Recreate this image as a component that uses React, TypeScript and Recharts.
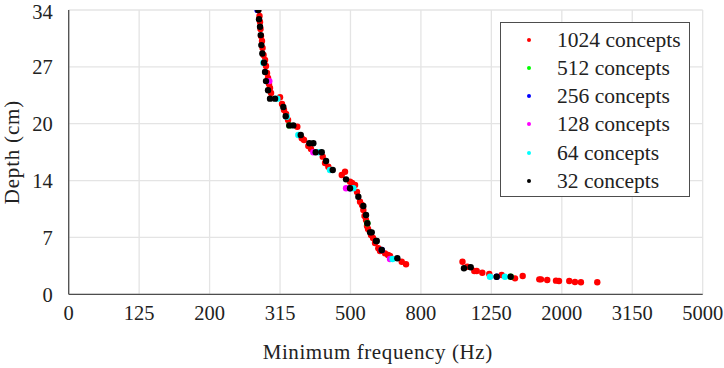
import { ScatterChart, Scatter, XAxis, YAxis, CartesianGrid, Legend, Label } from 'recharts';

// x axis: 2/3-octave bands, first band edge shown as "0"
const X_LABELS = ['0', '125', '200', '315', '500', '800', '1250', '2000', '3150', '5000'];
const X_MIN = 78.87;
const X_TICKS = X_LABELS.map((_, i) => X_MIN * Math.pow(10, i / 5));
const Y_TICKS = [0, 6.8, 13.6, 20.4, 27.2, 34];

// [minimum frequency (Hz), depth (cm)]
const c1024: [number, number][] = [
  [272.0, 34.0], [274.6, 33.28], [275.5, 32.56], [276.4, 31.73], [277.3, 30.89], [279.1, 30.29],
  [280.1, 29.45], [281.9, 28.62], [284.7, 28.02], [286.5, 27.3], [288.4, 26.47], [290.3, 25.87],
  [292.2, 25.15], [294.1, 24.67], [296.1, 24.07], [314.0, 23.56], [318.1, 22.76], [322.3, 22.04],
  [326.6, 21.56], [330.9, 20.84], [351.6, 20.04], [361.9, 18.66], [367.3, 18.45], [377.8, 17.74],
  [384.5, 17.38], [415.1, 16.46], [421.4, 15.7], [430.6, 15.26], [480.2, 14.66], [470.0, 14.27],
  [496.2, 13.47], [502.7, 13.31], [512.7, 13.07], [519.4, 12.23], [529.7, 11.07], [536.7, 10.68],
  [541.3, 10.08], [545.5, 9.36], [550.9, 8.89], [554.5, 8.17], [558.2, 7.81], [569.2, 7.09],
  [576.7, 6.73], [584.3, 6.13], [597.0, 5.5], [603.7, 5.18], [623.8, 4.9], [636.1, 4.7],
  [644.5, 4.58], [695.7, 3.9], [715.5, 3.59],
  [1035, 3.9], [1068, 3.3], [1118, 2.79], [1136, 2.79], [1178, 2.58], [1233, 2.43], [1337, 2.31],
  [1459, 1.91], [1534, 2.19], [1710, 1.79], [1729, 1.79], [1801, 1.71], [1907, 1.63], [1945, 1.59],
  [2080, 1.59], [2159, 1.47], [2245, 1.44], [2498, 1.44],
];
const c512: [number, number][] = [[333.7, 20.2], [555.6, 8.49], [1418, 2.1]];
const c256: [number, number][] = [[271.0, 34.0], [496.2, 12.68], [610.5, 5.3], [1294, 2.1]];
const c128: [number, number][] = [[292.8, 25.5], [390.4, 16.98], [483.4, 12.68], [644.5, 4.22]];
const c64: [number, number][] = [
  [281.5, 27.7], [308.5, 23.4], [328.1, 21.24], [353.9, 19.05], [405.2, 16.98], [435.4, 14.87],
  [507.0, 12.68], [655.1, 4.22], [1239, 2.1], [1366, 2.1],
];
const c32: [number, number][] = [
  [272.5, 34.0], [273.7, 32.9], [275.5, 32.0], [276.8, 31.0], [277.9, 29.8], [279.7, 28.8],
  [282.8, 27.7], [284.7, 26.6], [286.5, 25.5], [290.3, 24.4], [294.1, 23.4], [303.9, 23.4],
  [320.8, 22.4], [325.9, 21.3], [333.7, 20.2], [342.5, 20.2], [359.5, 19.05], [380.3, 18.06],
  [390.4, 18.06], [396.5, 16.98], [412.4, 16.98], [424.2, 15.94], [443.1, 14.87], [483.4, 13.75],
  [496.2, 12.68], [523.9, 11.67], [541.3, 10.56], [550.9, 9.48], [555.6, 8.49], [565.5, 7.41],
  [571.8, 7.41], [588.1, 6.37], [591.0, 6.37], [610.5, 5.3], [676.0, 4.31],
  [1045, 3.11], [1092, 3.23], [1294, 2.1], [1418, 2.1],
];

const SERIES = [
  { name: '1024 concepts', color: '#ff0000', data: c1024 },
  { name: '512 concepts', color: '#00ff00', data: c512 },
  { name: '256 concepts', color: '#0000ff', data: c256 },
  { name: '128 concepts', color: '#ff00ff', data: c128 },
  { name: '64 concepts', color: '#00ffff', data: c64 },
  { name: '32 concepts', color: '#000000', data: c32 },
];
const ORDER = SERIES.map((s) => s.name);

const AXIS = '#4d4d4d';
const TEXT = '#222';
const FONT = '"Liberation Serif", "Times New Roman", serif';

const renderLegend = (props: any) => {
  const items = [...(props.payload || [])].sort((a: any, b: any) => ORDER.indexOf(a.value) - ORDER.indexOf(b.value));
  return (
    <div style={{ border: `1px solid ${AXIS}`, background: '#fff', padding: '3px 0', boxSizing: 'border-box', width: 190, height: 175 }}>
      {items.map((entry: any) => (
        <div key={entry.value} style={{ display: 'flex', alignItems: 'center', height: 28.2 }}>
          <span style={{ display: 'inline-block', width: 4, height: 4, borderRadius: '50%', background: entry.color, marginLeft: 26, marginRight: 26 }} />
          <span style={{ fontSize: 21.5, color: TEXT, fontFamily: FONT, lineHeight: '28px' }}>{entry.value}</span>
        </div>
      ))}
    </div>
  );
};

const App = () => (
  <div style={{ position: 'absolute', left: 0, top: 0, fontFamily: FONT }}>
    <ScatterChart width={724} height={368} margin={{ top: 10, right: 21.3, bottom: 3.7, left: 0 }}>
      <CartesianGrid stroke="#e4e4e4" strokeWidth={1.3} />
      <XAxis
        type="number"
        dataKey="f"
        scale="log"
        domain={[X_TICKS[0], X_TICKS[9]]}
        ticks={X_TICKS}
        allowDataOverflow
        tickFormatter={(_v: number, i: number) => X_LABELS[i]}
        tick={{ fontSize: 20.5, fill: TEXT, fontFamily: FONT }}
        tickLine={false}
        tickSize={0}
        tickMargin={11}
        axisLine={{ stroke: AXIS, strokeWidth: 1.3 }}
        height={70}
      >
        <Label value="Minimum frequency (Hz)" position="insideBottom" offset={5} dx={-8}
          style={{ fontSize: 21, fill: TEXT, fontFamily: FONT, letterSpacing: 0.6 }} />
      </XAxis>
      <XAxis xAxisId="xb" type="number" scale="log" domain={[X_TICKS[0], X_TICKS[9]]} ticks={X_TICKS}
        allowDataOverflow mirror height={0} tick={false} tickSize={5} tickLine={{ stroke: AXIS, strokeWidth: 1.3 }} axisLine={false} />
      <XAxis xAxisId="xt" orientation="top" type="number" scale="log" domain={[X_TICKS[0], X_TICKS[9]]} ticks={X_TICKS}
        allowDataOverflow mirror height={0} tick={false} tickSize={5} tickLine={{ stroke: AXIS, strokeWidth: 1.3 }}
        axisLine={{ stroke: AXIS, strokeWidth: 1.3 }} />
      <YAxis
        type="number"
        dataKey="d"
        domain={[0, 34]}
        ticks={Y_TICKS}
        allowDataOverflow
        tickFormatter={(v: number) => String(Math.round(v))}
        tick={{ fontSize: 20.5, fill: TEXT, fontFamily: FONT }}
        tickLine={false}
        tickSize={0}
        tickMargin={16}
        axisLine={{ stroke: AXIS, strokeWidth: 1.3 }}
        width={68.7}
      >
        <Label
          content={({ viewBox }: any) => {
            const cx = viewBox.x + 19;
            const cy = viewBox.y + viewBox.height / 2;
            return (
              <text x={cx} y={cy} transform={`rotate(-90, ${cx}, ${cy})`} textAnchor="middle"
                style={{ fontSize: 21, fill: TEXT, fontFamily: FONT, letterSpacing: 0.8 }}>
                Depth (cm)
              </text>
            );
          }}
        />
      </YAxis>
      <YAxis yAxisId="yl" type="number" domain={[0, 34]} ticks={Y_TICKS} mirror width={0} tick={false}
        tickSize={5} tickLine={{ stroke: AXIS, strokeWidth: 1.3 }} axisLine={false} />
      <YAxis yAxisId="yr" orientation="right" type="number" domain={[0, 34]} ticks={Y_TICKS} mirror width={0} tick={false}
        tickSize={5} tickLine={{ stroke: AXIS, strokeWidth: 1.3 }} axisLine={{ stroke: AXIS, strokeWidth: 1.3 }} />
      <Legend
        layout="vertical"
        align="center"
        verticalAlign="middle"
        content={renderLegend}
        wrapperStyle={{ left: 500, top: 21.7, width: 190, height: 175 }}
      />
      {SERIES.map((s) => (
        <Scatter
          key={s.name}
          name={s.name}
          data={s.data.map(([f, d]) => ({ f, d }))}
          fill={s.color}
          isAnimationActive={false}
          shape={(p: any) => <circle cx={p.cx} cy={p.cy} r={3.2} fill={s.color} />}
        />
      ))}
    </ScatterChart>
  </div>
);

export default App;
